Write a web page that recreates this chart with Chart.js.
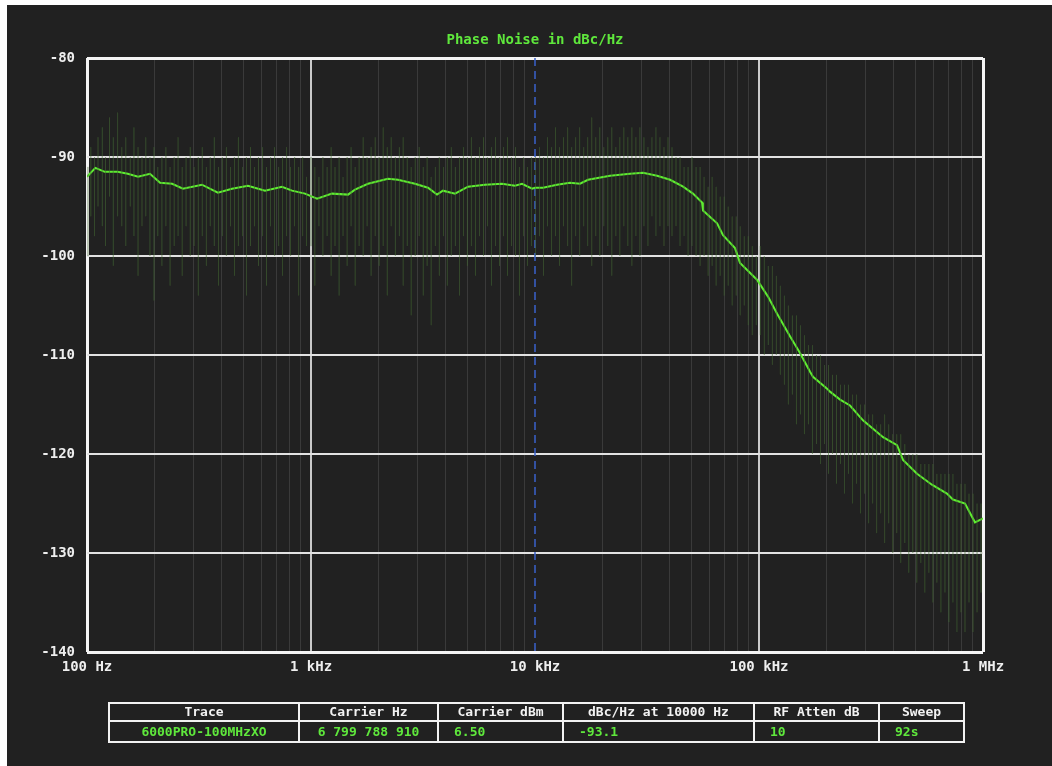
<!DOCTYPE html>
<html>
<head>
<meta charset="utf-8">
<title>Phase Noise</title>
<script src="https://cdn.jsdelivr.net/npm/chart.js@4.4.1/dist/chart.umd.min.js"></script>
<style>
  html, body { margin: 0; padding: 0; background: #ffffff; width: 1052px; height: 766px; overflow: hidden; }
  #panel { position: absolute; left: 7px; top: 5px; width: 1045px; height: 761px; background: #212121; }
  #chart { position: absolute; left: 0; top: 0; }
  #info {
    position: absolute; left: 101px; top: 697px; width: 855px;
    border-collapse: collapse; table-layout: fixed;
    font: bold 13px "DejaVu Sans Mono", monospace;
  }
  #info th, #info td { border: 2px solid #f2f2f2; padding: 0; white-space: nowrap; overflow: hidden; }
  #info th { color: #f2f2f2; height: 16px; line-height: 16px; text-align: center; }
  #info td { color: #5fe83c; height: 19px; line-height: 19px; text-align: left; padding-left: 15px; }
  #info td.c { text-align: center; padding-left: 0; }
</style>
</head>
<body>
<div id="panel">
  <canvas id="chart" width="1045" height="761"></canvas>
  <table id="info">
    <colgroup>
      <col style="width:190px"><col style="width:139px"><col style="width:125px">
      <col style="width:191px"><col style="width:125px"><col style="width:85px">
    </colgroup>
    <tr><th>Trace</th><th>Carrier Hz</th><th>Carrier dBm</th><th>dBc/Hz at 10000 Hz</th><th>RF Atten dB</th><th>Sweep</th></tr>
    <tr><td class="c">6000PRO-100MHzXO</td><td class="c">6 799 788 910</td><td>6.50</td><td>-93.1</td><td>10</td><td>92s</td></tr>
  </table>
</div>
<script>
// Smoothed phase-noise trace (offset frequency in Hz, level in dBc/Hz)
const traceHz = [100, 109, 120, 137, 152, 169, 191, 212, 240, 268, 326, 384, 444, 523, 623, 742, 823, 940,
  1064, 1241, 1463, 1572, 1796, 2206, 2445, 2912, 3328, 3652, 3883, 4394, 5023, 5980, 7123, 8142, 8750, 9704,
  10000, 10860, 12540, 14330, 15880, 17250, 21630, 26560, 30350, 35060, 40090, 45820, 50720, 55690, 56230,
  65010, 69070, 78150, 82270, 97950, 109700, 120300, 137500, 152400, 169000, 174200, 201300, 207500, 230100,
  254800, 291200, 358000, 413300, 439500, 507600, 591600, 690200, 734200, 831100, 920500, 1000000];
const traceDb = [-92.0, -91.1, -91.5, -91.5, -91.7, -92.0, -91.7, -92.6, -92.7, -93.2, -92.8, -93.6, -93.2, -92.9, -93.4, -93.0, -93.4, -93.7,
  -94.2, -93.7, -93.8, -93.3, -92.7, -92.2, -92.3, -92.7, -93.1, -93.8, -93.4, -93.7, -93.0, -92.8, -92.7, -92.9, -92.7, -93.2,
  -93.1, -93.1, -92.8, -92.6, -92.7, -92.3, -91.9, -91.7, -91.6, -91.9, -92.3, -93.0, -93.7, -94.6, -95.4,
  -96.7, -97.9, -99.2, -100.7, -102.4, -104.1, -105.8, -108.1, -109.8, -111.7, -112.2, -113.4, -113.7, -114.5,
  -115.1, -116.6, -118.3, -119.1, -120.6, -122.0, -123.1, -124.0, -124.6, -125.0, -126.9, -126.5];

// Raw sweep excursions: [offset Hz, highest dBc/Hz, lowest dBc/Hz]
const noiseSpikes = [
  [101, -91, -100], [104, -89, -96], [108, -90, -98], [112, -88, -95], [117, -87, -97], [121, -90, -99],
  [126, -86, -94], [131, -88, -101], [137, -85.5, -96], [143, -89, -97], [149, -88, -99], [156, -90, -95],
  [162, -87, -98], [169, -89, -102], [176, -90, -97], [183, -88, -96], [191, -90, -100], [199, -89, -104.5],
  [207, -91, -98], [216, -90, -101], [225, -89, -97], [235, -91, -103], [245, -90, -99], [255, -88, -98],
  [266, -91, -102], [277, -90, -97], [289, -89, -100], [301, -91, -99], [314, -90, -104], [327, -89, -98],
  [341, -91, -101], [355, -90, -97], [370, -88, -99], [386, -91, -103], [402, -90, -98], [419, -89, -100],
  [437, -91, -97], [455, -90, -102], [474, -88, -99], [494, -91, -98], [515, -90, -104], [537, -89, -99],
  [560, -91, -97], [583, -90, -101], [608, -89, -98], [633, -91, -103], [660, -90, -97], [688, -89, -100],
  [717, -91, -99], [747, -90, -102], [778, -89, -98], [811, -91, -100], [845, -90, -97], [881, -91, -104],
  [918, -90, -98], [956, -92, -99],
  [1000, -90, -99], [1040, -91, -103], [1085, -92, -97], [1130, -90, -100], [1180, -91, -98], [1230, -89, -102],
  [1280, -91, -99], [1335, -90, -104], [1390, -92, -98], [1450, -90, -101], [1510, -89, -97], [1575, -91, -103],
  [1640, -90, -99], [1710, -88, -100], [1780, -90, -97], [1855, -89, -102], [1935, -88, -98], [2015, -90, -101],
  [2100, -87, -99], [2190, -89, -104], [2280, -88, -97], [2380, -90, -100], [2480, -89, -98], [2580, -88, -103],
  [2690, -90, -99], [2800, -91, -106], [2920, -90, -100], [3040, -89, -98], [3170, -91, -104], [3300, -90, -101],
  [3440, -92, -107], [3590, -91, -99], [3740, -90, -102], [3900, -91, -98], [4060, -90, -103], [4230, -89, -100],
  [4410, -91, -99], [4600, -90, -104], [4790, -89, -98], [4990, -90, -101], [5200, -88, -99], [5420, -90, -102],
  [5650, -89, -98], [5890, -88, -100], [6130, -90, -97], [6390, -89, -103], [6660, -88, -99], [6940, -90, -101],
  [7230, -89, -98], [7530, -88, -102], [7850, -90, -99], [8180, -89, -100], [8520, -91, -104], [8880, -90, -98],
  [9250, -91, -101], [9640, -90, -99],
  [10050, -90, -100], [10480, -89, -98], [10920, -90, -102], [11380, -88, -97], [11860, -89, -100], [12360, -87, -98],
  [12880, -89, -101], [13420, -88, -97], [13990, -87, -99], [14580, -89, -103], [15190, -88, -98], [15830, -87, -100],
  [16500, -89, -97], [17190, -88, -99], [17920, -86, -101], [18670, -88, -98], [19460, -87, -100], [20280, -89, -97],
  [21130, -88, -99], [22020, -87, -102], [22950, -89, -98], [23920, -88, -100], [24920, -87, -97], [25970, -88, -99],
  [27070, -87, -101], [28210, -88, -98], [29400, -87, -100], [30640, -88, -97], [31930, -89, -99], [33270, -88, -96],
  [34670, -87, -98], [36130, -88, -97], [37650, -89, -99], [39240, -88, -97], [40890, -89, -98], [42610, -90, -97],
  [44410, -90, -99], [46280, -91, -98], [48230, -91, -100],
  [50260, -90, -99], [52380, -91, -100], [54580, -91, -101], [56880, -92, -100], [59280, -93, -102], [61770, -92, -101],
  [64370, -93, -103], [67080, -94, -102], [69910, -94, -104], [72850, -95, -103], [75920, -96, -105], [79110, -96, -104],
  [82450, -97, -106], [85920, -98, -105], [89530, -98, -107], [93300, -99, -108], [97230, -100, -107],
  [101300, -99, -108], [105600, -100, -110], [110000, -101, -109], [114700, -101, -111], [119500, -102, -110],
  [124500, -103, -112], [129800, -104, -113], [135200, -105, -115], [140900, -106, -114], [146900, -106, -117],
  [153100, -107, -116], [159500, -108, -118], [166200, -109, -117], [173200, -109, -120], [180500, -110, -119],
  [188100, -110, -121], [196000, -111, -119], [204300, -111, -122], [212900, -112, -120], [221900, -112, -123],
  [231200, -113, -121], [241000, -113, -124], [251100, -113, -122], [261700, -114, -125], [272700, -114, -123],
  [284200, -115, -126], [296200, -115, -124], [308700, -116, -127], [321700, -116, -125], [335200, -117, -128],
  [349300, -117, -126], [364000, -116, -129], [379400, -117, -127], [395400, -118, -130], [412000, -118, -128],
  [429400, -118, -131], [447500, -119, -129], [466300, -120, -132], [486000, -120, -130], [506400, -120, -133],
  [527800, -121, -131], [550000, -121, -134], [573200, -121, -132], [597300, -121, -135], [622500, -122, -133],
  [648700, -122, -136], [676100, -122, -134], [704500, -122, -137], [734200, -122, -135], [765200, -123, -138],
  [797400, -123, -136], [831000, -123, -138], [866000, -124, -135], [902500, -124, -138], [940500, -125, -136],
  [980000, -125, -134]
];

// Axis ticks
const decadeHz = [100, 1000, 10000, 100000, 1000000];
const decadeLabels = ['100 Hz', '1 kHz', '10 kHz', '100 kHz', '1 MHz'];
const minorSteps = [2, 3, 4, 5, 6, 7, 8, 9];
const levelTicks = [-140, -130, -120, -110, -100, -90, -80];
const markerHz = 10000;

const xMin = decadeHz[0], xMax = decadeHz[decadeHz.length - 1];
const yMin = levelTicks[0], yMax = levelTicks[levelTicks.length - 1];

const xGridHz = [];
decadeHz.forEach((d, i) => {
  xGridHz.push(d);
  if (i < decadeHz.length - 1) minorSteps.forEach(m => xGridHz.push(d * m));
});
const isDecade = v => v !== undefined && Math.abs(Math.log10(v) - Math.round(Math.log10(v))) < 1e-9;

const spikePoints = [];
noiseSpikes.forEach(([hz, hi, lo]) => {
  spikePoints.push({ x: hz, y: hi }, { x: hz, y: lo }, { x: hz, y: null });
});

const FONT = '"DejaVu Sans Mono", monospace';

new Chart(document.getElementById('chart'), {
  type: 'line',
  data: {
    datasets: [
      {
        label: 'raw',
        data: spikePoints,
        borderColor: 'rgba(72, 108, 54, 0.24)',
        borderWidth: 1,
        pointRadius: 0,
        spanGaps: false,
        tension: 0
      },
      {
        label: 'Phase noise',
        data: traceHz.map((hz, i) => ({ x: hz, y: traceDb[i] })),
        borderColor: '#5eee30',
        borderWidth: 2,
        pointRadius: 0,
        tension: 0
      },
      {
        label: 'marker',
        data: [{ x: markerHz, y: yMax }, { x: markerHz, y: yMin }],
        borderColor: '#3a62cc',
        borderWidth: 1.5,
        borderDash: [8, 5],
        pointRadius: 0
      }
    ]
  },
  options: {
    responsive: false,
    animation: false,
    events: [],
    layout: { padding: { left: 0, right: 69, top: 0, bottom: 84 } },
    plugins: {
      legend: { display: false },
      tooltip: { enabled: false },
      title: {
        display: true,
        fullSize: false,
        text: 'Phase Noise in dBc/Hz',
        color: '#5fe83c',
        font: { family: FONT, size: 14, weight: 'bold', lineHeight: 1.2 },
        padding: { top: 27, bottom: 9.2 }
      }
    },
    scales: {
      x: {
        type: 'logarithmic',
        min: xMin,
        max: xMax,
        afterBuildTicks: scale => { scale.ticks = xGridHz.map(v => ({ value: v })); },
        afterFit: scale => { scale.height = 30; },
        border: { display: false },
        grid: {
          drawTicks: false,
          color: c => {
            const v = c.tick && c.tick.value;
            if (v === markerHz) return 'rgba(0,0,0,0)';
            if (v === xMin || v === xMax) return '#f4f4f4';
            return isDecade(v) ? '#c9c9c9' : '#3a3a3a';
          },
          lineWidth: c => {
            const v = c.tick && c.tick.value;
            if (v === xMin || v === xMax) return 3;
            return isDecade(v) ? 2 : 1;
          }
        },
        ticks: {
          autoSkip: false,
          maxRotation: 0,
          minRotation: 0,
          padding: 7,
          color: '#eeeeee',
          font: { family: FONT, size: 14, weight: 'bold' },
          callback: v => {
            const i = decadeHz.indexOf(v);
            return i >= 0 ? decadeLabels[i] : '';
          }
        }
      },
      y: {
        type: 'linear',
        min: yMin,
        max: yMax,
        afterBuildTicks: scale => { scale.ticks = levelTicks.map(v => ({ value: v })); },
        afterFit: scale => { scale.width = 80; },
        border: { display: false },
        grid: {
          drawTicks: false,
          color: c => {
            const v = c.tick && c.tick.value;
            return (v === yMin || v === yMax) ? '#f4f4f4' : '#e2e2e2';
          },
          lineWidth: c => {
            const v = c.tick && c.tick.value;
            return (v === yMin || v === yMax) ? 3 : 2;
          }
        },
        ticks: {
          padding: 12,
          color: '#eeeeee',
          font: { family: FONT, size: 14, weight: 'bold' },
          callback: v => String(v)
        }
      }
    }
  }
});
</script>
</body>
</html>
